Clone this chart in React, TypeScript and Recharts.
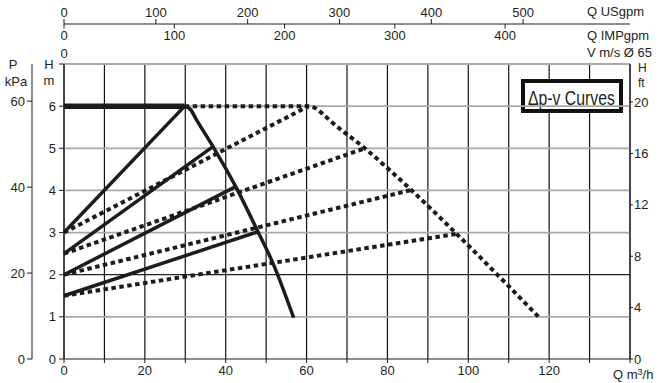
import React from 'react'
import { LineChart, Line, XAxis, YAxis, CartesianGrid, ReferenceLine, Customized } from 'recharts'

// axis ticks
const flowTicks = [0, 10, 20, 30, 40, 50, 60, 70, 80, 90, 100, 110, 120, 130, 140]
const flowLabels = [0, 20, 40, 60, 80, 100, 120]
const headTicks = [0, 1, 2, 3, 4, 5, 6, 7]
const headLabels = [0, 1, 2, 3, 4, 5, 6]
const kpaTicks = [0, 20, 40, 60]
const ftTicks = [0, 4, 8, 12, 16, 20]
const usgpmTicks = [0, 100, 200, 300, 400, 500]
const impgpmTicks = [0, 100, 200, 300, 400]
const velocityTicks = [0]

// small pump: max curve (flat part drawn heavier)
const maxFlatQ = [0, 29.85]
const maxFlatH = [6, 6]
const maxDropQ = [29.85, 31.3, 32.75, 36.85, 42.47, 47.98, 51.7, 56.8]
const maxDropH = [6, 5.92, 5.68, 5.04, 4.09, 3.02, 2.27, 0.98]

// large pump: max curve (dotted)
const bigMaxQ = [29.85, 60.5, 62.2, 63.7, 66, 74.4, 85.9, 97.1, 117.5]
const bigMaxH = [6, 6, 5.95, 5.84, 5.64, 5.0, 4.01, 2.97, 0.99]

// Δp-v setpoint lines (start at half head at zero flow)
const dpvStartH = [3, 2.5, 2, 1.5]
const dpvSmallEndQ = [29.85, 36.85, 42.47, 47.98]
const dpvSmallEndH = [6, 5.04, 4.09, 3.02]
const dpvBigEndQ = [60.5, 74.4, 85.9, 97.1]
const dpvBigEndH = [6, 5.0, 4.01, 2.97]

const toPoints = (qs: number[], hs: number[]) => qs.map((q, i) => ({ q, h: hs[i] }))

// unit conversions of the flow range, so the top axes have a span
const Q_MAX = 140
const US_PER_M3H = 4.40287
const IMP_PER_M3H = 3.66615
const VEL_PER_M3H = 1 / (3600 * Math.PI / 4 * 0.065 * 0.065)
const topAxisSpan = [0, Q_MAX].map(q => ({ us: q * US_PER_M3H, imp: q * IMP_PER_M3H, v: q * VEL_PER_M3H }))

const INK = '#1c1c1c'
const TEXT = '#231f20'
const FONT = '"Liberation Sans", Arial, sans-serif'
const tickStyle = { fontSize: 13, fill: TEXT, fontFamily: FONT }

function ImpTick(props: any) {
  const { x, y, payload } = props
  return (
    <g>
      <line x1={x} x2={x} y1={y - 20} y2={y - 15.5} stroke={INK} strokeWidth={1} />
      <text x={x} y={y - 4.5} textAnchor="middle" style={tickStyle}>{payload.value}</text>
    </g>
  )
}

function Labels() {
  const t = { fontSize: 13, fill: TEXT, fontFamily: FONT }
  const small = { ...t, fontSize: 12 }
  return (
    <g>
      <text x={587} y={15.5} style={t}>Q USgpm</text>
      <text x={587} y={39.5} style={t}>Q IMPgpm</text>
      <text x={587} y={56.5} style={t}>V m/s Ø 65</text>
      <text x={13} y={69} textAnchor="middle" style={t}>P</text>
      <text x={16} y={86} textAnchor="middle" style={t}>kPa</text>
      <text x={49} y={69} textAnchor="middle" style={t}>H</text>
      <text x={49} y={85} textAnchor="middle" style={t}>m</text>
      <text x={638} y={72} style={small}>H</text>
      <text x={638} y={86.5} style={small}>ft</text>
      <text x={613} y={379} style={t}>
        Q m<tspan fontSize={9} dy={-4}>3</tspan><tspan dy={4}>/h</tspan>
      </text>
      <rect x={523} y={81} width={98} height={30} fill="#fff" stroke="#111" strokeWidth={4} />
      <text
        transform="translate(528,104.5) scale(1,1.33)"
        style={{ fontSize: 15.8, fill: TEXT, fontFamily: FONT }}
      >
        Δp-v Curves
      </text>
    </g>
  )
}

export default function App() {
  return (
    <div style={{ position: 'absolute', left: 0, top: 0, background: '#fff' }}>
      <LineChart width={663} height={383} data={topAxisSpan} margin={{ top: 0, right: 0, bottom: 0, left: 0 }}>
        {/* bottom flow axis (m3/h) drives the curves */}
        <XAxis
          xAxisId="q"
          type="number"
          dataKey="q"
          domain={[0, Q_MAX]}
          ticks={flowTicks}
          interval={0}
          tickFormatter={v => (flowLabels.includes(v) ? String(v) : '')}
          height={24}
          tickSize={4}
          tickMargin={3}
          stroke={INK}
          tick={tickStyle}
        />
        {/* top axes: velocity, IMPgpm, USgpm (nearest plot first) */}
        <XAxis
          xAxisId="a_v"
          orientation="top"
          type="number"
          dataKey="v"
          domain={[0, Q_MAX * VEL_PER_M3H]}
          ticks={velocityTicks}
          allowDataOverflow
          height={20}
          axisLine={false}
          tickLine={false}
          tickSize={0}
          tickMargin={6}
          tick={tickStyle}
        />
        <XAxis
          xAxisId="b_imp"
          orientation="top"
          type="number"
          dataKey="imp"
          domain={[0, Q_MAX * IMP_PER_M3H]}
          ticks={impgpmTicks}
          interval={0}
          allowDataOverflow
          height={20}
          axisLine={false}
          tickLine={false}
          tickSize={0}
          tickMargin={0}
          tick={(p: any) => <ImpTick {...p} />}
        />
        <XAxis
          xAxisId="c_us"
          orientation="top"
          type="number"
          dataKey="us"
          domain={[0, Q_MAX * US_PER_M3H]}
          ticks={usgpmTicks}
          interval={0}
          allowDataOverflow
          height={24}
          tickSize={5}
          tickMargin={2}
          stroke={INK}
          tick={tickStyle}
        />
        <YAxis
          yAxisId="a_m"
          type="number"
          domain={[0, 7]}
          ticks={headTicks}
          interval={0}
          tickFormatter={v => (headLabels.includes(v) ? String(v) : '')}
          width={32}
          tickSize={5}
          tickMargin={3}
          stroke={INK}
          tick={tickStyle}
        />
        <YAxis
          yAxisId="b_kpa"
          type="number"
          domain={[0, 7 * 9.80665]}
          ticks={kpaTicks}
          interval={0}
          allowDataOverflow
          width={32}
          tickSize={5}
          tickMargin={2}
          stroke={INK}
          tick={tickStyle}
        />
        <YAxis
          yAxisId="ft"
          orientation="right"
          type="number"
          domain={[0, 7 / 0.3048]}
          ticks={ftTicks}
          interval={0}
          allowDataOverflow
          width={33}
          tickSize={3}
          tickMargin={1}
          stroke={INK}
          tick={{ ...tickStyle, textAnchor: 'start' }}
        />

        <CartesianGrid xAxisId="q" yAxisId="a_m" horizontal={false} stroke="#111" strokeWidth={1.2} />
        {headTicks.slice(1).map(h => (
          <ReferenceLine
            key={h}
            xAxisId="q"
            yAxisId="a_m"
            y={h}
            stroke={h === 2 ? '#222' : '#a8a8a8'}
            strokeWidth={h === 2 ? 1.3 : 1.8}
            ifOverflow="extendDomain"
          />
        ))}

        {/* dotted: large pump */}
        <Line
          xAxisId="q" yAxisId="a_m" data={toPoints(bigMaxQ, bigMaxH)} dataKey="h" type="monotone"
          stroke={INK} strokeWidth={4} strokeDasharray="4.5 3.5" dot={false} isAnimationActive={false}
        />
        {dpvStartH.map((h0, i) => (
          <Line
            key={'d' + i}
            xAxisId="q" yAxisId="a_m"
            data={toPoints([0, dpvBigEndQ[i]], [h0, dpvBigEndH[i]])}
            dataKey="h" type="linear"
            stroke={INK} strokeWidth={4} strokeDasharray="4.5 3.5" dot={false} isAnimationActive={false}
          />
        ))}

        {/* solid: small pump */}
        {dpvStartH.map((h0, i) => (
          <Line
            key={'s' + i}
            xAxisId="q" yAxisId="a_m"
            data={toPoints([0, dpvSmallEndQ[i]], [h0, dpvSmallEndH[i]])}
            dataKey="h" type="linear"
            stroke={INK} strokeWidth={3.5} dot={false} isAnimationActive={false}
          />
        ))}
        <Line
          xAxisId="q" yAxisId="a_m" data={toPoints(maxDropQ, maxDropH)} dataKey="h" type="monotone"
          stroke={INK} strokeWidth={3.5} dot={false} isAnimationActive={false}
        />
        <Line
          xAxisId="q" yAxisId="a_m" data={toPoints(maxFlatQ, maxFlatH)} dataKey="h" type="linear"
          stroke={INK} strokeWidth={5.5} dot={false} isAnimationActive={false}
        />

        <Customized component={Labels} />
      </LineChart>
    </div>
  )
}
